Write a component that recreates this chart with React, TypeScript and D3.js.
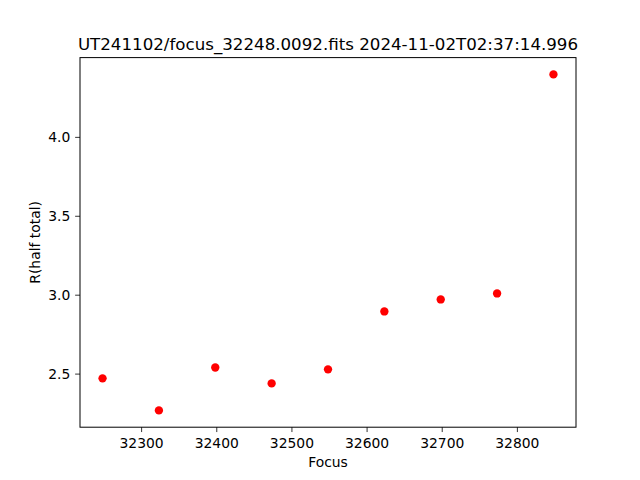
import React from "react";
import * as d3 from "d3";

const focusValues = [32248, 32323, 32398, 32473, 32548, 32623, 32698, 32773, 32848];
const radiusValues = [2.473, 2.27, 2.542, 2.441, 2.53, 2.897, 2.973, 3.011, 4.399];
const xTicks = [32300, 32400, 32500, 32600, 32700, 32800];
const yTicks = [2.5, 3.0, 3.5, 4.0];
const title = "UT241102/focus_32248.0092.fits 2024-11-02T02:37:14.996";
const xLabel = "Focus";
const yLabel = "R(half total)";

const W = 640, H = 480;
const L = 80, R = 576, T = 57.6, B = 427.2;
const font = "DejaVu Sans, sans-serif";

function pad(ext: [number, number]): [number, number] {
  const r = ext[1] - ext[0];
  return [ext[0] - 0.05 * r, ext[1] + 0.05 * r];
}

export default function App() {
  const x = d3.scaleLinear().domain(pad(d3.extent(focusValues) as [number, number])).range([L, R]);
  const y = d3.scaleLinear().domain(pad(d3.extent(radiusValues) as [number, number])).range([B, T]);
  const tl = 4.86;
  return (
    <svg width={W} height={H} style={{ position: "absolute", left: 0, top: 0, background: "#fff" }}>
      <rect x={0} y={0} width={W} height={H} fill="#fff" />
      <text x={(L + R) / 2} y={49.5} textAnchor="middle" fontFamily={font} fontSize={16.67} fill="#000">{title}</text>
      {focusValues.map((f, i) => (
        <circle key={i} cx={x(f)} cy={y(radiusValues[i])} r={4.17} fill="red" />
      ))}
      <rect x={L} y={T} width={R - L} height={B - T} fill="none" stroke="#000" strokeWidth={1} />
      {xTicks.map((t) => (
        <g key={t}>
          <line x1={x(t)} x2={x(t)} y1={B} y2={B + tl} stroke="#000" strokeWidth={0.8} />
          <text x={x(t)} y={447.5} textAnchor="middle" fontFamily={font} fontSize={13.89} fill="#000">{t}</text>
        </g>
      ))}
      {yTicks.map((t) => (
        <g key={t}>
          <line x1={L - tl} x2={L} y1={y(t)} y2={y(t)} stroke="#000" strokeWidth={0.8} />
          <text x={L - tl - 4.86} y={y(t) + 5} textAnchor="end" fontFamily={font} fontSize={13.89} fill="#000">{t.toFixed(1)}</text>
        </g>
      ))}
      <text x={(L + R) / 2} y={467} textAnchor="middle" fontFamily={font} fontSize={13.89} fill="#000">{xLabel}</text>
      <text transform={`translate(39.5, ${(T + B) / 2}) rotate(-90)`} textAnchor="middle" fontFamily={font} fontSize={13.89} fill="#000">{yLabel}</text>
    </svg>
  );
}
